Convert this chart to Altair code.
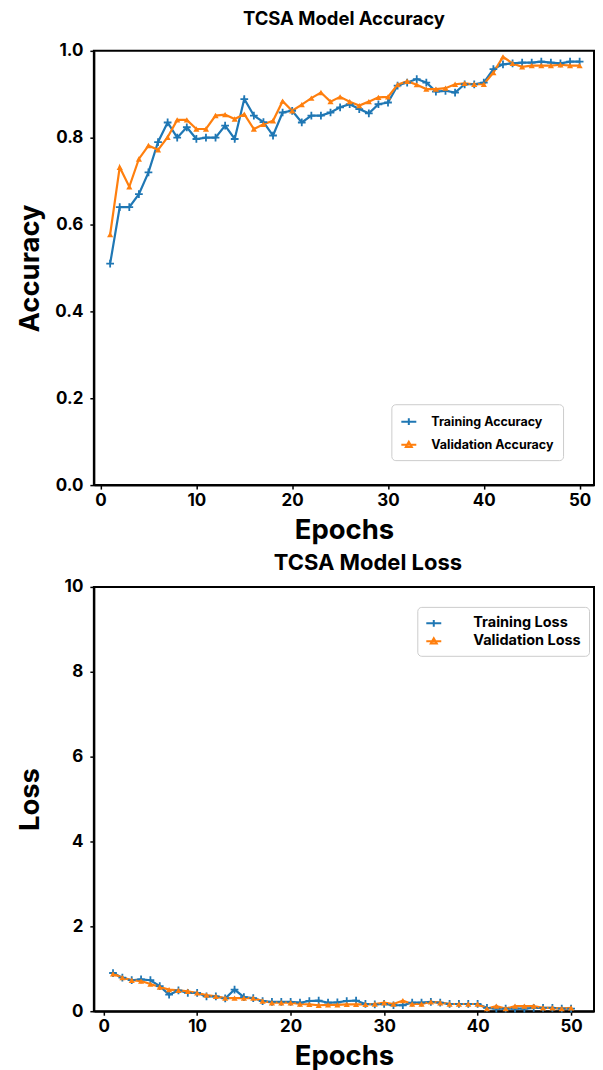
import altair as alt
import pandas as pd

epochs = list(range(1, 51))

train_acc = [0.51, 0.64, 0.64, 0.67, 0.72, 0.79, 0.835, 0.80, 0.824, 0.797,
             0.80, 0.80, 0.828, 0.797, 0.889, 0.851, 0.836, 0.805, 0.858, 0.862,
             0.835, 0.851, 0.851, 0.858, 0.870, 0.877, 0.866, 0.856, 0.877, 0.881,
             0.920, 0.927, 0.935, 0.927, 0.906, 0.908, 0.904, 0.923, 0.923, 0.927,
             0.958, 0.969, 0.971, 0.973, 0.973, 0.975, 0.973, 0.971, 0.975, 0.975]
val_acc = [0.577, 0.732, 0.687, 0.751, 0.782, 0.772, 0.801, 0.841, 0.841, 0.82,
           0.82, 0.851, 0.853, 0.843, 0.854, 0.82, 0.831, 0.839, 0.884, 0.862,
           0.876, 0.891, 0.904, 0.883, 0.894, 0.883, 0.874, 0.883, 0.893, 0.894,
           0.922, 0.930, 0.922, 0.912, 0.912, 0.914, 0.923, 0.925, 0.923, 0.923,
           0.950, 0.986, 0.971, 0.963, 0.966, 0.966, 0.966, 0.968, 0.966, 0.966]
train_loss = [0.90, 0.79, 0.73, 0.75, 0.73, 0.59, 0.39, 0.49, 0.43, 0.43,
              0.35, 0.35, 0.30, 0.51, 0.33, 0.31, 0.24, 0.22, 0.22, 0.22,
              0.20, 0.24, 0.25, 0.20, 0.21, 0.24, 0.25, 0.17, 0.16, 0.17,
              0.14, 0.14, 0.20, 0.20, 0.22, 0.20, 0.17, 0.17, 0.17, 0.17,
              0.08, 0.06, 0.06, 0.06, 0.06, 0.08, 0.08, 0.08, 0.06, 0.06]
val_loss = [0.88, 0.79, 0.73, 0.71, 0.64, 0.57, 0.51, 0.49, 0.47, 0.43,
            0.38, 0.35, 0.31, 0.31, 0.31, 0.31, 0.24, 0.20, 0.20, 0.20,
            0.17, 0.16, 0.14, 0.15, 0.15, 0.16, 0.16, 0.16, 0.17, 0.20,
            0.17, 0.25, 0.17, 0.17, 0.22, 0.20, 0.17, 0.17, 0.17, 0.17,
            0.06, 0.12, 0.06, 0.12, 0.12, 0.12, 0.08, 0.08, 0.06, 0.08]

acc_names = ["Training Accuracy", "Validation Accuracy"]
loss_names = ["Training Loss", "Validation Loss"]
acc_ticks = [0.0, 0.2, 0.4, 0.6, 0.8, 1.0]
loss_ticks = [0, 2, 4, 6, 8, 10]
epoch_ticks = [0, 10, 20, 30, 40, 50]

BLUE = "#1f77b4"
ORANGE = "#ff7f0e"
FONT = "Inter"
PLUS = "M-1,0H1M0,-1V1"
LEG_PLUS = "M-1,0H1M0,-0.45V0.45"
LEG_TRI = "M-1,0H1M-0.4,0.3L0,-0.4L0.4,0.3Z"


def panel(train, val, names, title, title_size, title_dx, title_offset, ytitle, ytitle_pad,
          ydomain, yticks, yfmt, xdomain, width, height, lx, ly, label_offset,
          label_size, leg_pad, row_pad):
    df = pd.DataFrame({
        "Epoch": epochs + epochs,
        "Value": train + val,
        "Series": [names[0]] * len(train) + [names[1]] * len(val),
    })
    cscale = alt.Scale(domain=names, range=[BLUE, ORANGE])
    x = alt.X("Epoch:Q", scale=alt.Scale(domain=xdomain, nice=False, zero=False),
              axis=alt.Axis(values=epoch_ticks, title="Epochs", grid=False,
                            titlePadding=8, labelPadding=3))
    y = alt.Y("Value:Q", scale=alt.Scale(domain=ydomain, nice=False),
              axis=alt.Axis(values=yticks, format=yfmt, title=ytitle, grid=False,
                            titlePadding=ytitle_pad, labelPadding=7))
    base = alt.Chart(df)
    tr = base.transform_filter(alt.datum.Series == names[0])
    va = base.transform_filter(alt.datum.Series == names[1])
    tr_line = tr.mark_line(strokeWidth=2.2, color=BLUE).encode(x=x, y=y)
    va_line = va.mark_line(strokeWidth=2.2, color=ORANGE).encode(x=x, y=y)
    tr_pts = tr.mark_point(
        shape=PLUS, filled=False, strokeWidth=1.8, size=60, color=BLUE, opacity=1
    ).encode(x=x, y=y)
    va_pts = va.mark_point(
        shape="triangle-up", filled=True, size=38, color=ORANGE, opacity=1
    ).encode(x=x, y=y)
    leg = alt.Legend(
        title=None, orient="none", legendX=lx, legendY=ly,
        labelFont=FONT, labelFontWeight="bold", labelFontSize=label_size, labelColor="black",
        symbolSize=225, symbolStrokeWidth=2, symbolOpacity=1,
        strokeColor="#cccccc", fillColor="white", cornerRadius=4,
        padding=leg_pad, rowPadding=row_pad, labelOffset=label_offset,
    )
    legend_layer = base.mark_point(filled=False, opacity=0).encode(
        x=x, y=y,
        color=alt.Color("Series:N", scale=cscale, legend=leg),
        shape=alt.Shape("Series:N", scale=alt.Scale(domain=names, range=[LEG_PLUS, LEG_TRI]), legend=leg),
    )
    return alt.layer(tr_line, va_line, tr_pts, va_pts, legend_layer).properties(
        width=width, height=height,
        title=alt.Title(title, font=FONT, fontSize=title_size, fontWeight="bold", color="black",
                        anchor="middle", frame="group", offset=title_offset, dx=title_dx),
    )


top = panel(train_acc, val_acc, acc_names, "TCSA Model Accuracy", 18.5, 0, 13,
            "Accuracy", 10, [0, 1], acc_ticks, ".1f", [-0.7, 51.5], 501, 435,
            298, 354, 14, 12.5, 9, 7)
bottom = panel(train_loss, val_loss, loss_names, "TCSA Model Loss", 22, 24, 3,
               "Loss", 20, [0, 10], loss_ticks, "d", [-1.05, 52.45], 501, 425,
               324, 20, 31, 14.5, 8, 2)

chart = alt.vconcat(top, bottom, spacing=6).resolve_scale(
    color="independent", shape="independent"
).resolve_legend(
    color="independent", shape="independent"
).properties(
    padding={"left": 7, "top": 0, "right": 0, "bottom": 0}
).configure_view(
    stroke="black", strokeWidth=2
).configure_axis(
    labelFont=FONT, labelFontSize=17, labelFontWeight="bold", labelColor="black",
    titleFont=FONT, titleFontSize=27.5, titleFontWeight="bold", titleColor="black",
    domainColor="black", domainWidth=2, tickColor="black", tickWidth=1.5, tickSize=4,
).configure_title(font=FONT)

chart.save("out.html", embed_options={"renderer": "svg", "actions": False})
